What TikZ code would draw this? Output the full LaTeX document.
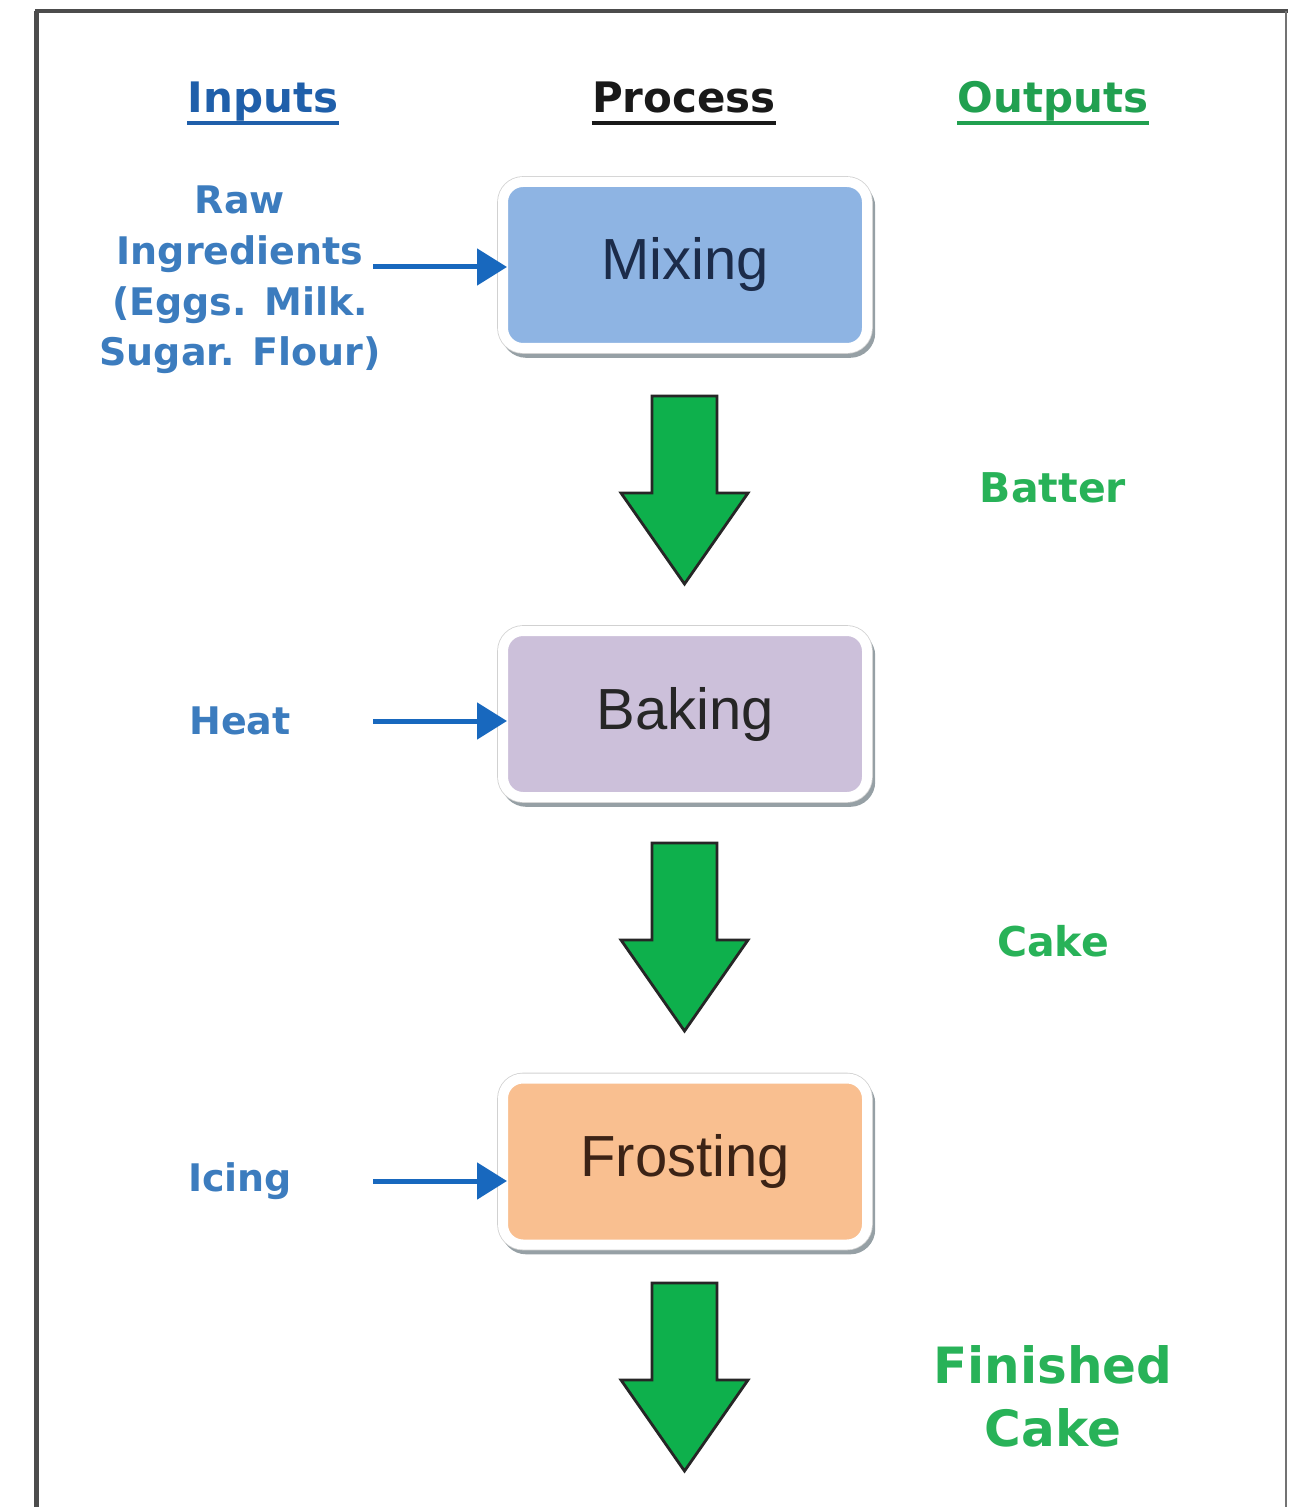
\documentclass[tikz,border=0pt]{standalone}
\usepackage{fontspec}
\setmainfont{DejaVu Sans}
\newfontfamily\boxfont{Liberation Sans}
\usetikzlibrary{arrows.meta,calc}
\definecolor{InHead}{RGB}{31,95,170}
\definecolor{InBlue}{RGB}{60,124,190}
\definecolor{FeedBlue}{RGB}{24,104,190}
\definecolor{OutHead}{RGB}{33,160,80}
\definecolor{OutGreen}{RGB}{40,178,88}
\definecolor{FlowGreen}{RGB}{14,176,76}
\definecolor{MixBlue}{RGB}{142,180,227}
\definecolor{BakeLilac}{RGB}{204,192,218}
\definecolor{FrostPeach}{RGB}{249,191,144}
\definecolor{ShadeGray}{RGB}{150,160,165}

\tikzset{
  stagebox/.style={rectangle, rounded corners=10pt, minimum width=182pt, minimum height=83pt,
    inner sep=0pt, draw=white, line width=5pt, font=\boxfont\fontsize{29}{34}\selectfont,
    preaction={draw=ShadeGray, line width=5pt, transform canvas={xshift=1.6pt,yshift=-2.4pt}},
    preaction={draw=black!18, line width=5.8pt}},
  head/.style={anchor=base, inner sep=0pt, font=\bfseries\fontsize{21}{25}\selectfont},
  inlbl/.style={text=InBlue, align=center, inner sep=0pt, font=\bfseries\fontsize{19}{25.3}\selectfont},
  outlbl/.style={text=OutGreen, align=center, inner sep=0pt, font=\bfseries\fontsize{20.5}{25}\selectfont},
  feed/.style={draw=FeedBlue, line width=2.5pt, -{Triangle[length=15pt,width=18pt]}},
  flow/.style={draw=black!85, fill=FlowGreen, line width=1.4pt, line join=miter}
}

\begin{document}
\begin{tikzpicture}[x=0.5pt,y=0.5pt,yscale=-1,xscale=1]
		\useasboundingbox (0,0) rectangle (1288,1507);

		% Frame of the slide
		\draw[line width=2.5pt, black!70] (36.5,1507) -- (36.5,11);
		\draw[line width=2pt, black!70] (35,11) -- (1288,11);
		\draw[line width=1.2pt, black!55] (1286,11) -- (1286,1507);

		% Column headers, underlined
		\node[head, text=InHead] (inhead) at (263,113) {Inputs};
		\node[head, text=black!90] (prochead) at (684,113) {Process};
		\node[head, text=OutHead] (outhead) at (1053,113) {Outputs};
		\draw[line width=2pt, InHead] ($(inhead.base west)+(0,10)$) -- ($(inhead.base east)+(0,10)$);
		\draw[line width=2pt, black!90] ($(prochead.base west)+(0,10)$) -- ($(prochead.base east)+(0,10)$);
		\draw[line width=2pt, OutHead] ($(outhead.base west)+(0,10)$) -- ($(outhead.base east)+(0,10)$);

		% Process steps
		\node[stagebox, fill=MixBlue, text={rgb,255:red,28;green,44;blue,74}] (mix) at (685,265) {Mixing};
		\node[stagebox, fill=BakeLilac, text=black!85] (bake) at (685,714) {Baking};
		\node[stagebox, fill=FrostPeach, text={rgb,255:red,60;green,35;blue,22}] (frost) at (685,1161.5) {Frosting};

		% Green block arrows between the steps
		\foreach \t in {396,843,1283}
		\draw[flow] (652,\t) -- (717,\t) -- (717,{\t+97}) -- (748,{\t+97}) -- (684.5,{\t+188})
		-- (621,{\t+97}) -- (652,{\t+97}) -- cycle;

		% Inputs (left)
		\node[inlbl] (raw) at (240,280) {Raw\\Ingredients\\(Eggs. Milk.\\Sugar. Flour)};
		\node[inlbl] (heat) at (240,721) {Heat};
		\node[inlbl] (icing) at (240,1181) {Icing};
		\coordinate (rawend) at (373,267);
		\coordinate (heatend) at (373,721);
		\coordinate (icingend) at (373,1181);
		\draw[feed] (rawend) -- ($(rawend -| mix.west)+(9,0)$);
		\draw[feed] (heatend) -- ($(heatend -| bake.west)+(9,0)$);
		\draw[feed] (icingend) -- ($(icingend -| frost.west)+(9,0)$);

		% Outputs (right)
		\node[outlbl] (batter) at (1053,488) {Batter};
		\node[outlbl] (cake) at (1053,941) {Cake};
		\node[outlbl, font=\bfseries\fontsize{25}{31.5}\selectfont] (finished) at (1053,1396) {Finished\\Cake};
	\end{tikzpicture}
\end{document}
